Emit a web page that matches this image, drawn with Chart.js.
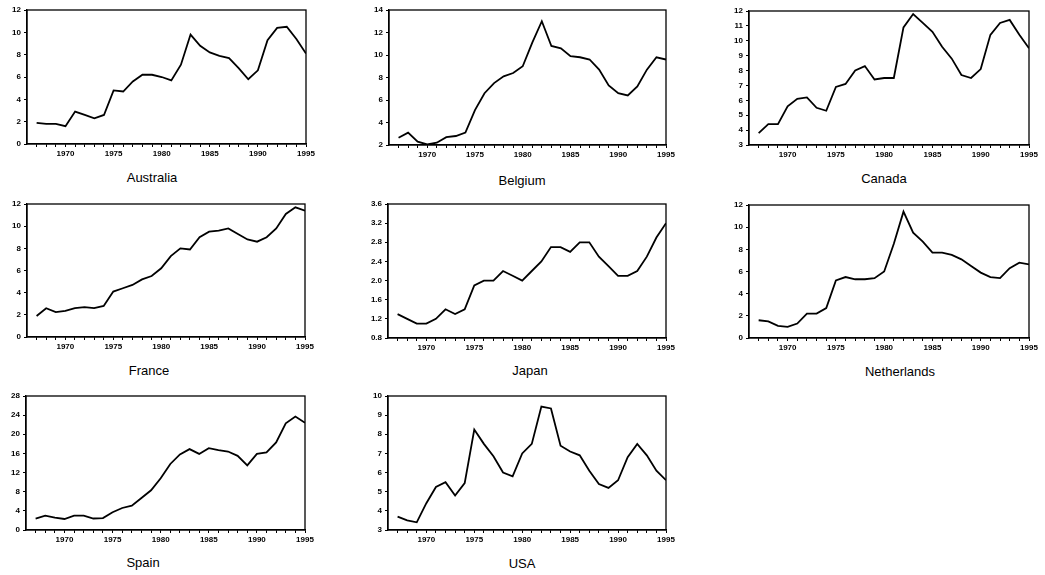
<!DOCTYPE html>
<html><head><meta charset="utf-8">
<script src="https://cdn.jsdelivr.net/npm/chart.js@4"></script>
<style>
html,body{margin:0;padding:0;background:#fff;}
#wrap{position:relative;width:1045px;height:575px;overflow:hidden;background:#fff;}
#wrap canvas{position:absolute;}
.ttl{position:absolute;font-family:"Liberation Sans",Arial,sans-serif;font-size:13px;color:#000;transform:translate(-50%,-50%);white-space:nowrap;}
</style></head><body><div id="wrap"></div>
<script>
// ---------- data ----------
const years = [1967,1968,1969,1970,1971,1972,1973,1974,1975,1976,1977,1978,1979,1980,1981,1982,1983,1984,1985,1986,1987,1988,1989,1990,1991,1992,1993,1994,1995];
const australia   = [1.9,1.8,1.8,1.6,2.9,2.6,2.3,2.6,4.8,4.7,5.6,6.2,6.2,6.0,5.7,7.1,9.8,8.8,8.2,7.9,7.7,6.8,5.8,6.6,9.3,10.4,10.5,9.4,8.1];
const belgium     = [2.65,3.1,2.3,2.05,2.2,2.7,2.8,3.1,5.1,6.6,7.5,8.1,8.4,9.0,11.1,13.0,10.8,10.6,9.9,9.8,9.6,8.7,7.3,6.6,6.4,7.2,8.7,9.8,9.6];
const canada      = [3.8,4.4,4.4,5.6,6.1,6.2,5.5,5.3,6.9,7.1,8.0,8.3,7.4,7.5,7.5,10.9,11.8,11.2,10.6,9.6,8.8,7.7,7.5,8.1,10.4,11.2,11.4,10.4,9.5];
const france      = [1.9,2.6,2.25,2.35,2.6,2.7,2.6,2.8,4.1,4.4,4.7,5.2,5.5,6.2,7.3,8.0,7.9,9.0,9.5,9.6,9.8,9.3,8.8,8.6,9.0,9.8,11.1,11.7,11.4];
const japan       = [1.3,1.2,1.1,1.1,1.2,1.4,1.3,1.4,1.9,2.0,2.0,2.2,2.1,2.0,2.2,2.4,2.7,2.7,2.6,2.8,2.8,2.5,2.3,2.1,2.1,2.2,2.5,2.9,3.2];
const netherlands = [1.6,1.5,1.1,1.0,1.3,2.2,2.2,2.7,5.2,5.5,5.3,5.3,5.4,6.0,8.5,11.4,9.5,8.7,7.7,7.7,7.5,7.1,6.5,5.9,5.5,5.4,6.3,6.8,6.65];
const spain       = [2.4,3.0,2.6,2.3,3.0,3.0,2.4,2.5,3.7,4.6,5.1,6.7,8.3,10.8,13.8,15.8,16.9,15.9,17.1,16.7,16.4,15.5,13.5,15.9,16.2,18.3,22.3,23.7,22.4];
const usa         = [3.7,3.5,3.4,4.4,5.25,5.5,4.8,5.45,8.25,7.5,6.85,6.0,5.8,7.0,7.5,9.45,9.35,7.4,7.1,6.9,6.1,5.4,5.2,5.6,6.8,7.5,6.9,6.1,5.6];

const countries = ["Australia","Belgium","Canada","France","Japan","Netherlands","Spain","USA"];
const seriesList = [australia,belgium,canada,france,japan,netherlands,spain,usa];
const yMin  = [0,2,3,0,0.8,0,0,3];
const yMax  = [12,14,12,12,3.6,12,28,10];
const yStep = [2,2,1,2,0.4,2,4,1];
const yDecimals = [0,0,0,0,1,0,0,0];
const xLabelYears = [1970,1975,1980,1985,1990,1995];

// ---------- layout (plot-area boxes and title centres, in page pixels) ----------
const panels = [
  {L:27,  R:306,  T:10,  B:144, tx:152, ty:177},
  {L:389, R:666,  T:10,  B:145, tx:522, ty:180},
  {L:749, R:1029, T:11,  B:145, tx:884, ty:178},
  {L:27,  R:305,  T:204, B:337, tx:149, ty:370},
  {L:388, R:666,  T:204, B:338, tx:530, ty:370},
  {L:749, R:1029, T:205, B:338, tx:900, ty:371},
  {L:26,  R:305,  T:396, B:530, tx:143, ty:562},
  {L:388, R:666,  T:396, B:530, tx:522, ty:563}
];
const YW = 30, PADT = 8, PADR = 18, XH = 22;

const frame = {id:'frame', afterDraw(c){
  const a=c.chartArea, ctx=c.ctx; ctx.save();
  ctx.strokeStyle='#000'; ctx.lineWidth=1.3;
  ctx.strokeRect(a.left, a.top, a.right-a.left, a.bottom-a.top);
  ctx.restore();
}};

const wrap = document.getElementById('wrap');
const tickFont = {family:'"Liberation Sans", Arial, sans-serif', size:8, weight:'bold'};

panels.forEach((p,i)=>{
  const cv = document.createElement('canvas');
  const w = YW + (p.R-p.L) + PADR, h = PADT + (p.B-p.T) + XH;
  cv.width = w; cv.height = h;
  cv.style.width = w+'px'; cv.style.height = h+'px';
  cv.style.left = (p.L-YW)+'px'; cv.style.top = (p.T-PADT)+'px';
  wrap.appendChild(cv);
  const t = document.createElement('div');
  t.className='ttl'; t.textContent = countries[i];
  t.style.left = p.tx+'px'; t.style.top = p.ty+'px';
  wrap.appendChild(t);

  new Chart(cv, {
    type:'line',
    data:{datasets:[{
      data: years.map((y,k)=>({x:y, y:seriesList[i][k]})),
      borderColor:'#000', borderWidth:1.8, pointRadius:0, tension:0, fill:false
    }]},
    options:{
      responsive:false, animation:false, devicePixelRatio:1,
      layout:{padding:{left:0,top:PADT,right:PADR,bottom:0}},
      plugins:{legend:{display:false}, tooltip:{enabled:false}},
      scales:{
        x:{type:'linear', min:years[0]-1, max:years[years.length-1],
          afterBuildTicks:(s)=>{ s.ticks = years.map(v=>({value:v})); },
          afterFit:(s)=>{ s.height = XH; },
          grid:{display:true, drawOnChartArea:false, drawTicks:true, tickLength:3, color:'#000', lineWidth:1},
          border:{display:true, color:'#000', width:1.3},
          ticks:{autoSkip:false, maxRotation:0, padding:2, color:'#000', font:tickFont,
            callback:(v)=> xLabelYears.includes(v) ? String(v) : ''}
        },
        y:{min:yMin[i], max:yMax[i],
          afterFit:(s)=>{ s.width = YW; },
          grid:{display:true, drawOnChartArea:false, drawTicks:true, tickLength:3, color:'#000', lineWidth:1},
          border:{display:true, color:'#000', width:1.3},
          ticks:{stepSize:yStep[i], padding:3, color:'#000', font:tickFont,
            callback:(v)=> Number(v).toFixed(yDecimals[i])}
        }
      }
    },
    plugins:[frame]
  });
});
</script>
</body></html>
